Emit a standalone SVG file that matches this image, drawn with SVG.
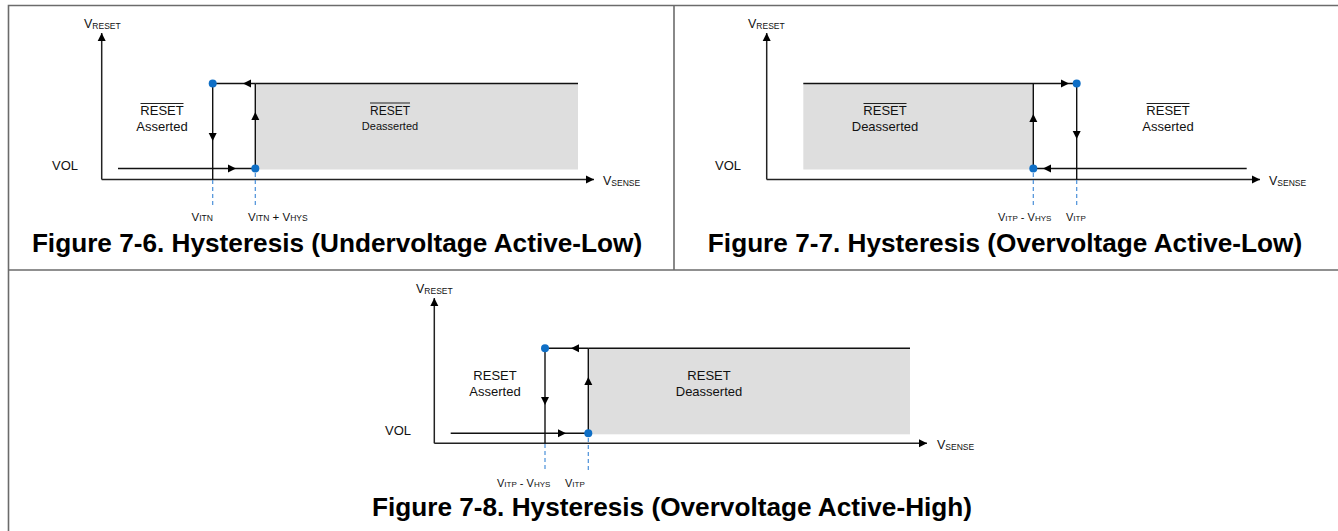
<svg xmlns="http://www.w3.org/2000/svg" width="1338" height="531" viewBox="0 0 1338 531">
<defs>
<marker id="arr" markerUnits="userSpaceOnUse" markerWidth="9" markerHeight="9" refX="8" refY="4" orient="auto" overflow="visible">
<path d="M0,0 L8,4 L0,8 z" fill="#000"/>
</marker>
<style>
.frame{stroke:#6b6b6b;stroke-width:1.6;fill:none}
.axis{stroke:#222;stroke-width:1.5;fill:none}
.ln{stroke:#111;stroke-width:1.4;fill:none}
.ar{marker-mid:url(#arr)}
.ae{marker-end:url(#arr)}
.dash{stroke:#4a90d9;stroke-width:1.2;stroke-dasharray:4,3;fill:none}
.dot{fill:#0f6fc6}
.box{fill:#dedede}
.t{font-family:"Liberation Sans",Arial,sans-serif;fill:#111}
.lbl{font-size:13px}
.title{font-family:"Liberation Sans",Arial,sans-serif;font-weight:bold;font-size:26.2px;fill:#000;text-anchor:middle}
.ol{stroke:#222;stroke-width:1}
</style>
</defs>

<g id="frame">
<path class="frame" d="M8.5,531 V5.5 H1338"/>
<path class="frame" d="M674,5.5 V270"/>
<path class="frame" d="M8.5,270 H1338"/>
</g>

<!-- Panel 1 -->
<g id="fig76">
<rect class="box" x="255.3" y="83.5" width="322.7" height="86"/>
<g id="fig76-axes">
<path class="axis ae" d="M101.7,179.5 V33"/>
<path class="axis ae" d="M101.7,179.5 H594"/>
</g>
<g id="fig76-connectors">
<path class="ln" d="M255.3,83.5 H578"/>
<path class="ln ar" d="M255.3,83.5 L243,83.5 L212.7,83.5"/>
<path class="ln ar" d="M212.7,83.5 L212.7,141 L212.7,179.5"/>
<path class="ln ar" d="M118,168.5 L236,168.5 L255.3,168.5"/>
<path class="ln ar" d="M255.3,168.5 L255.3,112 L255.3,83.5"/>
<path class="dash" d="M212.7,180 V205"/>
<path class="dash" d="M255.3,173 V205"/>
</g>
<circle class="dot" cx="212.7" cy="83.5" r="4"/>
<circle class="dot" cx="255.3" cy="168.5" r="4"/>
<text class="t" x="84" y="28"><tspan font-size="12.5">V</tspan><tspan font-size="8.5" dy="1">RESET</tspan></text>
<text class="t" x="603" y="185"><tspan font-size="12.5">V</tspan><tspan font-size="8.5" dy="1">SENSE</tspan></text>
<text class="t lbl" x="52" y="170">VOL</text>
<text class="t lbl" x="162" y="115" text-anchor="middle">RESET</text>
<line class="ol" x1="140.5" y1="103.5" x2="183.5" y2="103.5"/>
<text class="t lbl" x="162" y="131" text-anchor="middle">Asserted</text>
<text class="t" x="390" y="114.5" text-anchor="middle" font-size="12">RESET</text>
<line class="ol" x1="370" y1="103" x2="410" y2="103"/>
<text class="t" x="390" y="130" text-anchor="middle" font-size="11">Deasserted</text>
<text class="t" x="191.5" y="221"><tspan font-size="11.5">V</tspan><tspan font-size="8.5">ITN</tspan></text>
<text class="t" x="248" y="221"><tspan font-size="11.5">V</tspan><tspan font-size="8.5">ITN</tspan><tspan font-size="11.5"> + V</tspan><tspan font-size="8.5">HYS</tspan></text>
<text class="title" x="337" y="252">Figure 7-6. Hysteresis (Undervoltage Active-Low)</text>
</g>

<!-- Panel 2 -->
<g id="fig77">
<rect class="box" x="803.3" y="83.5" width="230" height="86"/>
<g id="fig77-axes">
<path class="axis ae" d="M766.7,179.5 V33"/>
<path class="axis ae" d="M766.7,179.5 H1260"/>
</g>
<g id="fig77-connectors">
<path class="ln ar" d="M803.3,83.5 L1069,83.5 L1076.7,83.5"/>
<path class="ln ar" d="M1076.7,83.5 L1076.7,139 L1076.7,179.5"/>
<path class="ln ar" d="M1246.7,168.5 L1043,168.5 L1033.3,168.5"/>
<path class="ln ar" d="M1033.3,168.5 L1033.3,114 L1033.3,83.5"/>
<path class="dash" d="M1033.3,173 V208"/>
<path class="dash" d="M1076.7,180 V205"/>
</g>
<circle class="dot" cx="1076.7" cy="83.5" r="4"/>
<circle class="dot" cx="1033.3" cy="168.5" r="4"/>
<text class="t" x="748" y="28"><tspan font-size="12.5">V</tspan><tspan font-size="8.5" dy="1">RESET</tspan></text>
<text class="t" x="1269" y="185"><tspan font-size="12.5">V</tspan><tspan font-size="8.5" dy="1">SENSE</tspan></text>
<text class="t lbl" x="715" y="170">VOL</text>
<text class="t lbl" x="885" y="115" text-anchor="middle">RESET</text>
<line class="ol" x1="863.5" y1="103.5" x2="906.5" y2="103.5"/>
<text class="t lbl" x="885" y="131" text-anchor="middle">Deasserted</text>
<text class="t lbl" x="1168" y="115" text-anchor="middle">RESET</text>
<line class="ol" x1="1146.5" y1="103.5" x2="1189.5" y2="103.5"/>
<text class="t lbl" x="1168" y="131" text-anchor="middle">Asserted</text>
<text class="t" x="998" y="221"><tspan font-size="11">V</tspan><tspan font-size="8">ITP</tspan><tspan font-size="11"> - V</tspan><tspan font-size="8">HYS</tspan></text>
<text class="t" x="1066" y="221"><tspan font-size="11">V</tspan><tspan font-size="8">ITP</tspan></text>
<text class="title" x="1005" y="252">Figure 7-7. Hysteresis (Overvoltage Active-Low)</text>
</g>

<!-- Panel 3 -->
<g id="fig78">
<rect class="box" x="588.3" y="348.3" width="321.7" height="86"/>
<g id="fig78-axes">
<path class="axis ae" d="M434.3,443.3 V298"/>
<path class="axis ae" d="M434.3,443.3 H927"/>
</g>
<g id="fig78-connectors">
<path class="ln" d="M588.3,348.3 H910"/>
<path class="ln ar" d="M588.3,348.3 L571,348.3 L545,348.3"/>
<path class="ln ar" d="M545,348.3 L545,405 L545,443.3"/>
<path class="ln ar" d="M450.7,433.3 L566,433.3 L588.3,433.3"/>
<path class="ln ar" d="M588.3,433.3 L588.3,377 L588.3,348.3"/>
<path class="dash" d="M545,444 V470"/>
<path class="dash" d="M588.3,438 V470"/>
</g>
<circle class="dot" cx="545" cy="348.3" r="4"/>
<circle class="dot" cx="588.3" cy="433.3" r="4"/>
<text class="t" x="416" y="293"><tspan font-size="12.5">V</tspan><tspan font-size="8.5" dy="1">RESET</tspan></text>
<text class="t" x="937" y="449"><tspan font-size="12.5">V</tspan><tspan font-size="8.5" dy="1">SENSE</tspan></text>
<text class="t lbl" x="385" y="435">VOL</text>
<text class="t lbl" x="495" y="380" text-anchor="middle">RESET</text>
<text class="t lbl" x="495" y="396" text-anchor="middle">Asserted</text>
<text class="t lbl" x="709" y="380" text-anchor="middle">RESET</text>
<text class="t lbl" x="709" y="396" text-anchor="middle">Deasserted</text>
<text class="t" x="497" y="487"><tspan font-size="11">V</tspan><tspan font-size="8">ITP</tspan><tspan font-size="11"> - V</tspan><tspan font-size="8">HYS</tspan></text>
<text class="t" x="565" y="487"><tspan font-size="11">V</tspan><tspan font-size="8">ITP</tspan></text>
<text class="title" x="672" y="516">Figure 7-8. Hysteresis (Overvoltage Active-High)</text>
</g>
</svg>
